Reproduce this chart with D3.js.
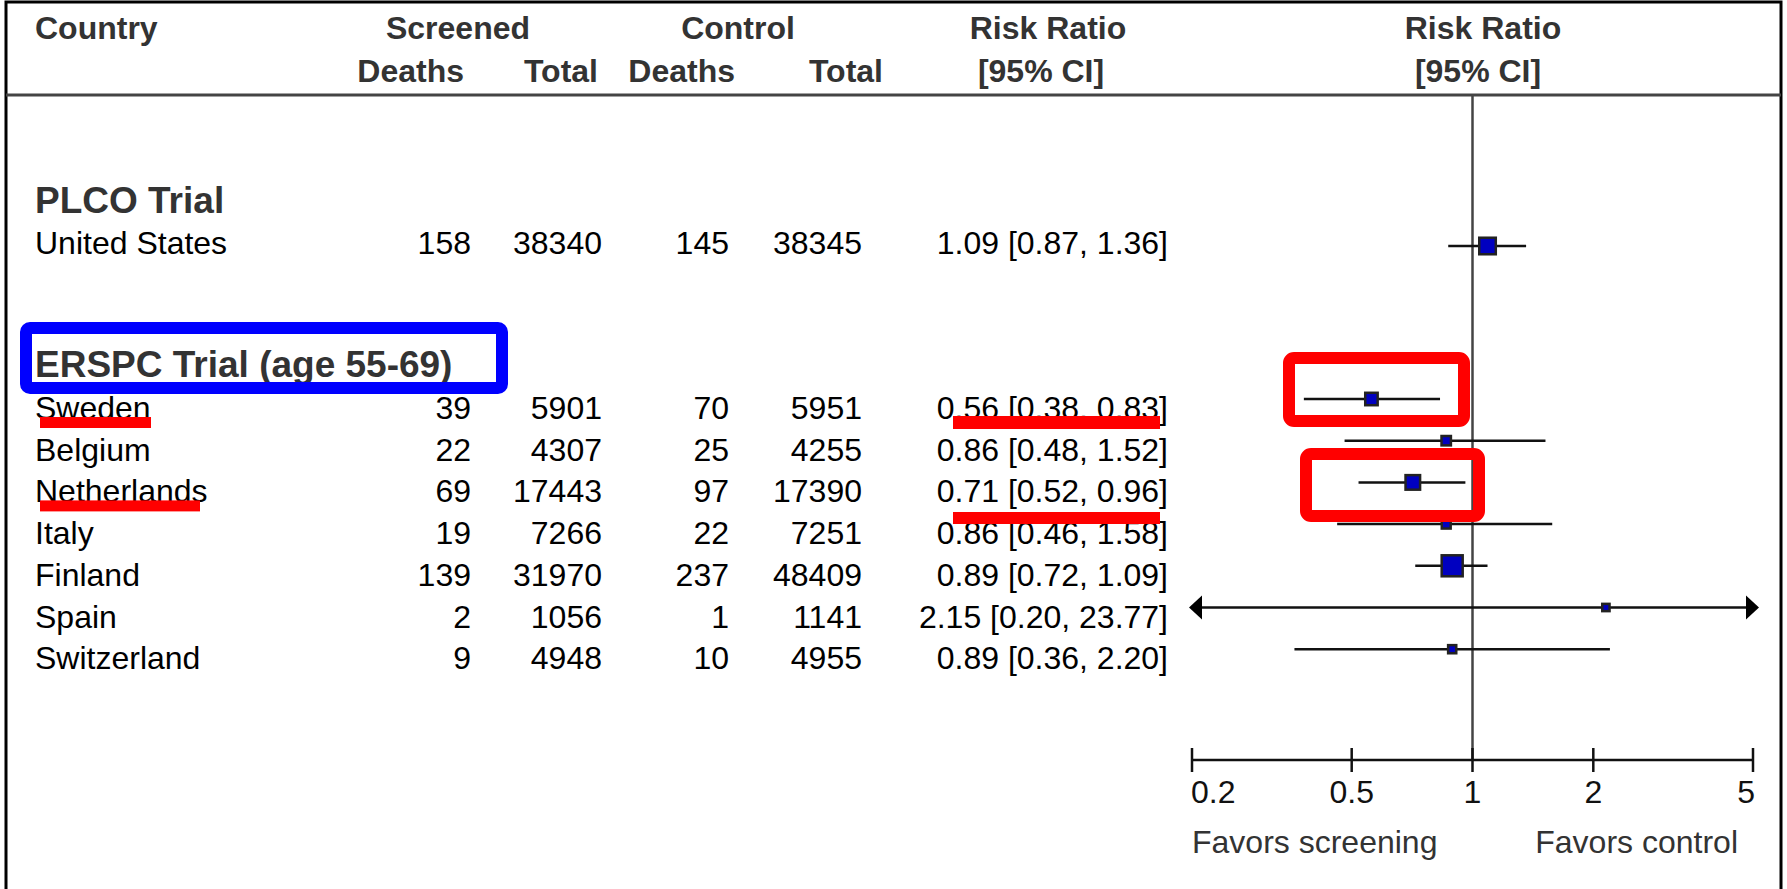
<!DOCTYPE html>
<html>
<head>
<meta charset="utf-8">
<script src="https://cdn.jsdelivr.net/npm/d3@7/dist/d3.min.js"></script>
<style>
  html, body { margin: 0; padding: 0; background: #fff; }
  svg { display: block; }
  text { font-family: "Liberation Sans", Arial, Helvetica, sans-serif; }
</style>
</head>
<body>
<svg id="chart" width="1787" height="889"></svg>
<script>
// ---------------- data ----------------
const groups = ["PLCO Trial", "ERSPC Trial (age 55-69)"];
const countries = ["United States", "Sweden", "Belgium", "Netherlands", "Italy", "Finland", "Spain", "Switzerland"];
const groupOf = [0, 1, 1, 1, 1, 1, 1, 1];
const screenedDeaths = [158, 39, 22, 69, 19, 139, 2, 9];
const screenedTotal = [38340, 5901, 4307, 17443, 7266, 31970, 1056, 4948];
const controlDeaths = [145, 70, 25, 97, 22, 237, 1, 10];
const controlTotal = [38345, 5951, 4255, 17390, 7251, 48409, 1141, 4955];
const riskRatio = [1.09, 0.56, 0.86, 0.71, 0.86, 0.89, 2.15, 0.89];
const ciLow = [0.87, 0.38, 0.48, 0.52, 0.46, 0.72, 0.20, 0.36];
const ciHigh = [1.36, 0.83, 1.52, 0.96, 1.58, 1.09, 23.77, 2.20];
const markerWeight = [62, 35, 20, 48, 18, 100, 12, 15];   // relative box area
const axisTicks = [0.2, 0.5, 1, 2, 5];
const axisTickLabels = ["0.2", "0.5", "1", "2", "5"];
const favorsLabels = ["Favors screening", "Favors control"];
const highlighted = ["Sweden", "Netherlands"];

// ---------------- layout ----------------
const svg = d3.select("#chart");
const W = 1787, H = 889;
const fontBody = 32, fontHead = 32, fontGroup = 37;
const rowStep = 41.7;
const groupFirstBaseline = [254, 419];
const groupHeadGap = [41, 42];
const ciOffset = [-8, -20];
const headerLineY = 95;
const axisY = 760;
const underlineLen = [111, 160];

const x = d3.scaleLog().domain([0.2, 5]).range([1192, 1753]);
const size = d3.scaleSqrt().domain([0, 100]).range([0, 21]);

// compute row baselines
const idxInGroup = countries.map((c, i) => groupOf.slice(0, i).filter(g => g === groupOf[i]).length);
const baseline = countries.map((c, i) => groupFirstBaseline[groupOf[i]] + idxInGroup[i] * rowStep);
const ciY = countries.map((c, i) => baseline[i] + ciOffset[groupOf[i]]);

// frame
svg.append("rect").attr("x", 6).attr("y", 2).attr("width", 1775).attr("height", H + 20)
  .attr("fill", "none").attr("stroke", "#000").attr("stroke-width", 3);
svg.append("line").attr("x1", 6).attr("x2", 1781).attr("y1", headerLineY).attr("y2", headerLineY)
  .attr("stroke", "#444").attr("stroke-width", 3);

// header
const headG = svg.append("g").attr("font-weight", "bold").attr("fill", "#333").attr("font-size", fontHead);
const headers = [
  {t: "Country", x: 35, y: 39, a: "start"},
  {t: "Screened", x: 458, y: 39, a: "middle"},
  {t: "Control", x: 738, y: 39, a: "middle"},
  {t: "Risk Ratio", x: 1048, y: 39, a: "middle"},
  {t: "Risk Ratio", x: 1483, y: 39, a: "middle"},
  {t: "Deaths", x: 464, y: 82, a: "end"},
  {t: "Total", x: 598, y: 82, a: "end"},
  {t: "Deaths", x: 735, y: 82, a: "end"},
  {t: "Total", x: 883, y: 82, a: "end"},
  {t: "[95% CI]", x: 1041, y: 82, a: "middle"},
  {t: "[95% CI]", x: 1478, y: 82, a: "middle"}
];
headG.selectAll("text").data(headers).join("text")
  .attr("x", d => d.x).attr("y", d => d.y).attr("text-anchor", d => d.a).text(d => d.t);

// group headings
svg.append("g").selectAll("text").data(groups).join("text")
  .attr("x", 35)
  .attr("y", (g, gi) => groupFirstBaseline[gi] - groupHeadGap[gi])
  .attr("font-size", fontGroup).attr("font-weight", "bold").attr("fill", "#333")
  .text(g => g);

// table rows
const fmt2 = d3.format(".2f");
const cols = [
  {vals: countries, x: 35, a: "start"},
  {vals: screenedDeaths, x: 471, a: "end"},
  {vals: screenedTotal, x: 602, a: "end"},
  {vals: controlDeaths, x: 729, a: "end"},
  {vals: controlTotal, x: 862, a: "end"},
  {vals: riskRatio.map((r, i) => `${fmt2(r)} [${fmt2(ciLow[i])}, ${fmt2(ciHigh[i])}]`), x: 1168, a: "end"}
];
const rowsG = svg.append("g").attr("font-size", fontBody).attr("fill", "#000");
cols.forEach((c, ci) => {
  rowsG.append("g").attr("class", "col" + ci).selectAll("text").data(c.vals).join("text")
    .attr("x", c.x).attr("y", (d, i) => baseline[i]).attr("text-anchor", c.a).text(d => d);
});

// reference line at 1
svg.append("line").attr("x1", x(1)).attr("x2", x(1)).attr("y1", headerLineY).attr("y2", axisY)
  .attr("stroke", "#444").attr("stroke-width", 2.5);

// axis
const axisG = svg.append("g");
axisG.append("line").attr("x1", x(0.2)).attr("x2", x(5)).attr("y1", axisY).attr("y2", axisY)
  .attr("stroke", "#111").attr("stroke-width", 2.5);
axisG.selectAll("line.tick").data(axisTicks).join("line").attr("class", "tick")
  .attr("x1", d => x(d)).attr("x2", d => x(d)).attr("y1", axisY - 12).attr("y2", axisY + 12)
  .attr("stroke", "#111").attr("stroke-width", 2.5);
const [d0, d1] = x.domain();
axisG.selectAll("text").data(axisTicks).join("text")
  .attr("x", d => x(d) + (d === d0 ? -1 : d === d1 ? 2 : 0))
  .attr("y", 803)
  .attr("text-anchor", d => d === d0 ? "start" : d === d1 ? "end" : "middle")
  .attr("font-size", fontBody).attr("fill", "#111")
  .text((d, i) => axisTickLabels[i]);
svg.append("text").attr("x", x(0.2)).attr("y", 853).attr("font-size", fontBody).attr("fill", "#333")
  .text(favorsLabels[0]);
svg.append("text").attr("x", x(5) - 15).attr("y", 853).attr("text-anchor", "end").attr("font-size", fontBody).attr("fill", "#333")
  .text(favorsLabels[1]);

// CI lines and markers
const plotG = svg.append("g");
const [xMin, xMax] = x.range();
countries.forEach((c, i) => {
  const xl = Math.max(x(ciLow[i]), xMin), xh = Math.min(x(ciHigh[i]), xMax);
  plotG.append("line").attr("x1", xl).attr("x2", xh).attr("y1", ciY[i]).attr("y2", ciY[i])
    .attr("stroke", "#111").attr("stroke-width", 2.5);
  if (ciLow[i] <= d0) {
    plotG.append("path").attr("d", `M${xMin - 3},${ciY[i]} L${xMin + 10},${ciY[i] - 12} L${xMin + 10},${ciY[i] + 12} Z`).attr("fill", "#000");
  }
  if (ciHigh[i] >= d1) {
    plotG.append("path").attr("d", `M${xMax + 6},${ciY[i]} L${xMax - 7},${ciY[i] - 12} L${xMax - 7},${ciY[i] + 12} Z`).attr("fill", "#000");
  }
  const s = size(markerWeight[i]);
  plotG.append("rect").attr("x", x(riskRatio[i]) - s / 2).attr("y", ciY[i] - s / 2)
    .attr("width", s).attr("height", s)
    .attr("fill", "#0000C0").attr("stroke", "#222").attr("stroke-width", 2.5);
});

// ---------------- annotations (overlay) ----------------
const annG = svg.append("g");
// blue box around ERSPC heading
annG.append("rect").attr("x", 26).attr("y", 328).attr("width", 476).attr("height", 60).attr("rx", 4)
  .attr("fill", "none").attr("stroke", "#0000FF").attr("stroke-width", 12);
// red underlines under highlighted country names
const nameNodes = svg.select(".col0").selectAll("text").nodes();
highlighted.forEach((h, k) => {
  const i = countries.indexOf(h);
  const bb = nameNodes[i].getBBox();
  annG.append("rect").attr("x", bb.x + 5).attr("y", baseline[i] - 2).attr("width", underlineLen[k]).attr("height", 11)
    .attr("fill", "#FF0000");
});
// RR column underlines
annG.append("rect").attr("x", 953).attr("y", 416).attr("width", 207).attr("height", 13).attr("fill", "#FF0000");
annG.append("rect").attr("x", 953).attr("y", 512).attr("width", 207).attr("height", 12).attr("fill", "#FF0000");
// red boxes around CIs
annG.append("rect").attr("x", 1289).attr("y", 358).attr("width", 175).attr("height", 63).attr("rx", 5)
  .attr("fill", "none").attr("stroke", "#FF0000").attr("stroke-width", 12);
annG.append("rect").attr("x", 1306).attr("y", 454).attr("width", 173).attr("height", 62).attr("rx", 5)
  .attr("fill", "none").attr("stroke", "#FF0000").attr("stroke-width", 12);
</script>
</body>
</html>
